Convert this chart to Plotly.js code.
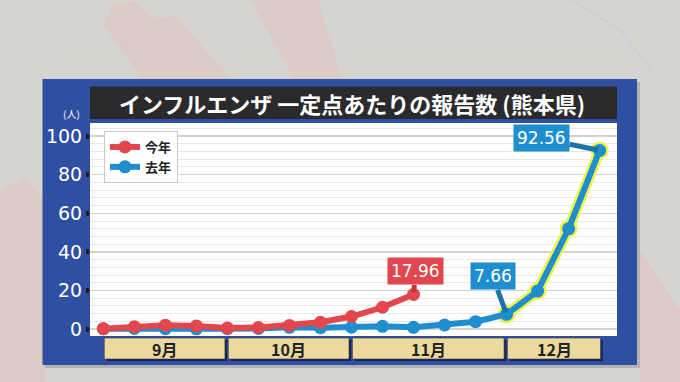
<!DOCTYPE html>
<html><head><meta charset="utf-8">
<script src="https://cdn.plot.ly/plotly-3.0.1.min.js"></script>
<style>html,body{margin:0;padding:0;background:#d6d4d1;}#chart{width:680px;height:382px;}</style>
</head><body><div id="chart"></div>
<script>
// ---- data ----
const weekMonth = ['9月','9月','9月','9月','10月','10月','10月','10月','11月','11月','11月','11月','11月','12月','12月','12月','12月'];
const thisYear = [0.2, 1.2, 2.0, 1.6, 0.5, 0.8, 1.9, 3.5, 6.5, 11.3, 17.96];
const lastYear = [0.1, 0.3, 0.2, 0.1, 0.2, 0.3, 0.9, 0.7, 1.0, 1.4, 0.9, 2.1, 3.8, 7.66, 19.7, 52.0, 92.56];
const seriesNames = ['今年', '去年'];
const yTicks = [0, 20, 40, 60, 80, 100];
const titleText = 'インフルエンザ 一定点あたりの報告数 (熊本県)';
const unitText = '(人)';
const highlightFrom = 13;

// ---- helpers ----
const W = 680, H = 382, L = 90, R = 63, T = 123, B = 46;
const PW = W - L - R, PH = H - T - B;
const px = x => (x - L) / PW;
const py = y => (H - B - y) / PH;
const FONT = 'Noto Sans CJK JP';
const NUMFONT = 'DejaVu Sans';
const RED = '#e4464e', BLUE = '#1f8ecf', YEL = '#eef24a';

const idxThis = thisYear.map((_, i) => i);
const idxLast = lastYear.map((_, i) => i);

const traces = [
  { x: idxLast.slice(highlightFrom), y: lastYear.slice(highlightFrom), mode: 'lines+markers',
    line: { color: YEL, width: 11 }, marker: { color: YEL, size: 18 }, showlegend: false, hoverinfo: 'skip', cliponaxis: false },
  { x: idxLast, y: lastYear, name: seriesNames[1], mode: 'lines+markers', legendrank: 2,
    line: { color: BLUE, width: 6 }, marker: { color: BLUE, size: 13 }, cliponaxis: false },
  { x: idxThis, y: thisYear, name: seriesNames[0], mode: 'lines+markers', legendrank: 1,
    line: { color: RED, width: 6 }, marker: { color: RED, size: 13 }, cliponaxis: false }
];

// month groups
const groups = [];
weekMonth.forEach((m, i) => {
  const g = groups[groups.length - 1];
  if (g && g.label === m) g.end = i; else groups.push({ label: m, start: i, end: i });
});
const last = weekMonth.length - 1;
const PINK = '#dbcac6';

const shapes = [
  // decorative background
  { type: 'path', xref: 'paper', yref: 'paper', layer: 'below', fillcolor: PINK, line: { width: 0 },
    path: `M ${px(104)},${py(25)} L ${px(112)},${py(5)} L ${px(135)},${py(2)} L ${px(155)},${py(20)} L ${px(175)},${py(15)} L ${px(240)},${py(90)} L ${px(150)},${py(90)} Z` },
  { type: 'path', xref: 'paper', yref: 'paper', layer: 'below', fillcolor: PINK, line: { width: 0 },
    path: `M ${px(250)},${py(0)} L ${px(318)},${py(0)} L ${px(342)},${py(80)} L ${px(295)},${py(80)} Z` },
  { type: 'path', xref: 'paper', yref: 'paper', layer: 'below', fillcolor: PINK, line: { width: 0 },
    path: `M ${px(0)},${py(190)} L ${px(25)},${py(178)} L ${px(45)},${py(200)} L ${px(45)},${py(382)} L ${px(0)},${py(382)} Z` },
  { type: 'path', xref: 'paper', yref: 'paper', layer: 'below', fillcolor: PINK, line: { width: 0 },
    path: `M ${px(640)},${py(250)} L ${px(680)},${py(310)} L ${px(680)},${py(382)} L ${px(640)},${py(382)} Z` },
  { type: 'path', xref: 'paper', yref: 'paper', layer: 'below', fillcolor: 'rgba(0,0,0,0)', line: { color: '#c7ccd8', width: 1.2 },
    path: `M ${px(572)},${py(0)} L ${px(620)},${py(30)} L ${px(655)},${py(75)}` },
  // frame shadow + frame
  { type: 'rect', xref: 'paper', yref: 'paper', layer: 'below', x0: px(45), x1: px(640), y0: py(368), y1: py(82),
    fillcolor: 'rgba(60,60,80,0.22)', line: { width: 0 } },
  { type: 'rect', xref: 'paper', yref: 'paper', layer: 'below', x0: px(42.5), x1: px(637), y0: py(365), y1: py(79),
    fillcolor: '#2e4fa2', line: { width: 0 } },
  // plot area
  { type: 'rect', xref: 'paper', yref: 'paper', layer: 'below', x0: 0, x1: 1, y0: 0, y1: 1,
    fillcolor: '#ffffff', line: { width: 0 } },
  // title bar
  { type: 'rect', xref: 'paper', yref: 'paper', layer: 'below', x0: 0, x1: 1, y0: py(119), y1: py(86.5),
    fillcolor: '#2a2a2c', line: { width: 0 } }
];
groups.forEach(g => {
  const x0 = g.start + 0.03, x1 = Math.min(g.end + 0.92, last + 0.03);
  shapes.push({ type: 'rect', xref: 'x', yref: 'paper', layer: 'below', x0: x0 + 0.07, x1: x1 + 0.07,
    y0: py(361), y1: py(340), fillcolor: '#18244d', line: { width: 0 } });
  shapes.push({ type: 'rect', xref: 'x', yref: 'paper', layer: 'below', x0: x0, x1: x1,
    y0: py(359), y1: py(338), fillcolor: '#ebd99d', line: { color: '#3a3a3a', width: 0.6 } });
});

const annotations = [
  { xref: 'paper', yref: 'paper', x: px(352), y: py(103), xanchor: 'center', yanchor: 'middle',
    text: '<b>' + titleText + '</b>', showarrow: false, font: { family: FONT, size: 22, color: '#ffffff' } },
  { xref: 'paper', yref: 'paper', x: px(71), y: py(113), xanchor: 'center', yanchor: 'middle',
    text: unitText, showarrow: false, font: { family: FONT, size: 10, color: '#ffffff' } }
];
groups.forEach(g => {
  const x0 = g.start + 0.03, x1 = Math.min(g.end + 0.92, last + 0.03);
  annotations.push({ xref: 'x', yref: 'paper', x: (x0 + x1) / 2, y: py(349), xanchor: 'center', yanchor: 'middle',
    text: g.label, showarrow: false, font: { family: FONT, size: 16, color: '#222', weight: 'bold' } });
});
function callout(x, y, ax, ay, bg, dark) {
  return { x: x, y: y, xref: 'x', yref: 'y', text: y.toFixed(2), showarrow: true, arrowhead: 0,
    arrowwidth: 5, arrowcolor: dark, ax: ax, ay: ay, standoff: 2, bgcolor: bg, borderpad: 3,
    xanchor: 'center', yanchor: 'middle',
    font: { family: NUMFONT, size: 17, color: '#ffffff' } };
}
annotations.push(callout(thisYear.length - 1, thisYear[thisYear.length - 1], 2, -23, '#e2464f', '#c9343b'));
annotations.push(callout(highlightFrom, lastYear[highlightFrom], -14, -38, '#1f8ecf', '#1a74a9'));
annotations.push(callout(last, lastYear[last], -58, -12, '#1f8ecf', '#1a74a9'));

const layout = {
  width: W, height: H,
  margin: { l: L, r: R, t: T, b: B, pad: 0 },
  paper_bgcolor: '#d6d4d1', plot_bgcolor: 'rgba(0,0,0,0)',
  font: { family: FONT },
  xaxis: { range: [-0.43, 16.56], showgrid: false, zeroline: false, showticklabels: false, showline: false, ticks: '' },
  yaxis: { range: [-3.6, 106.8], tickvals: yTicks, showgrid: true, gridcolor: '#d2d2d2', gridwidth: 1.5,
    minor: { dtick: 4, tick0: 0, showgrid: true, gridcolor: '#e9e9e9', gridwidth: 1 },
    zeroline: false, showline: false, ticks: 'outside', ticklen: 3, tickwidth: 5, tickcolor: '#1c1c1c',
    tickfont: { family: NUMFONT, size: 19, color: '#ffffff' } },
  legend: { x: px(104), y: py(131), xanchor: 'left', yanchor: 'top', bgcolor: '#ffffff',
    bordercolor: '#c9c9c9', borderwidth: 1, font: { family: FONT, size: 13, color: '#222', weight: 'bold' },
    traceorder: 'normal', itemwidth: 30 },
  showlegend: true,
  shapes: shapes,
  annotations: annotations
};

Plotly.newPlot('chart', traces, layout, { displayModeBar: false, staticPlot: true });
</script>
</body></html>
